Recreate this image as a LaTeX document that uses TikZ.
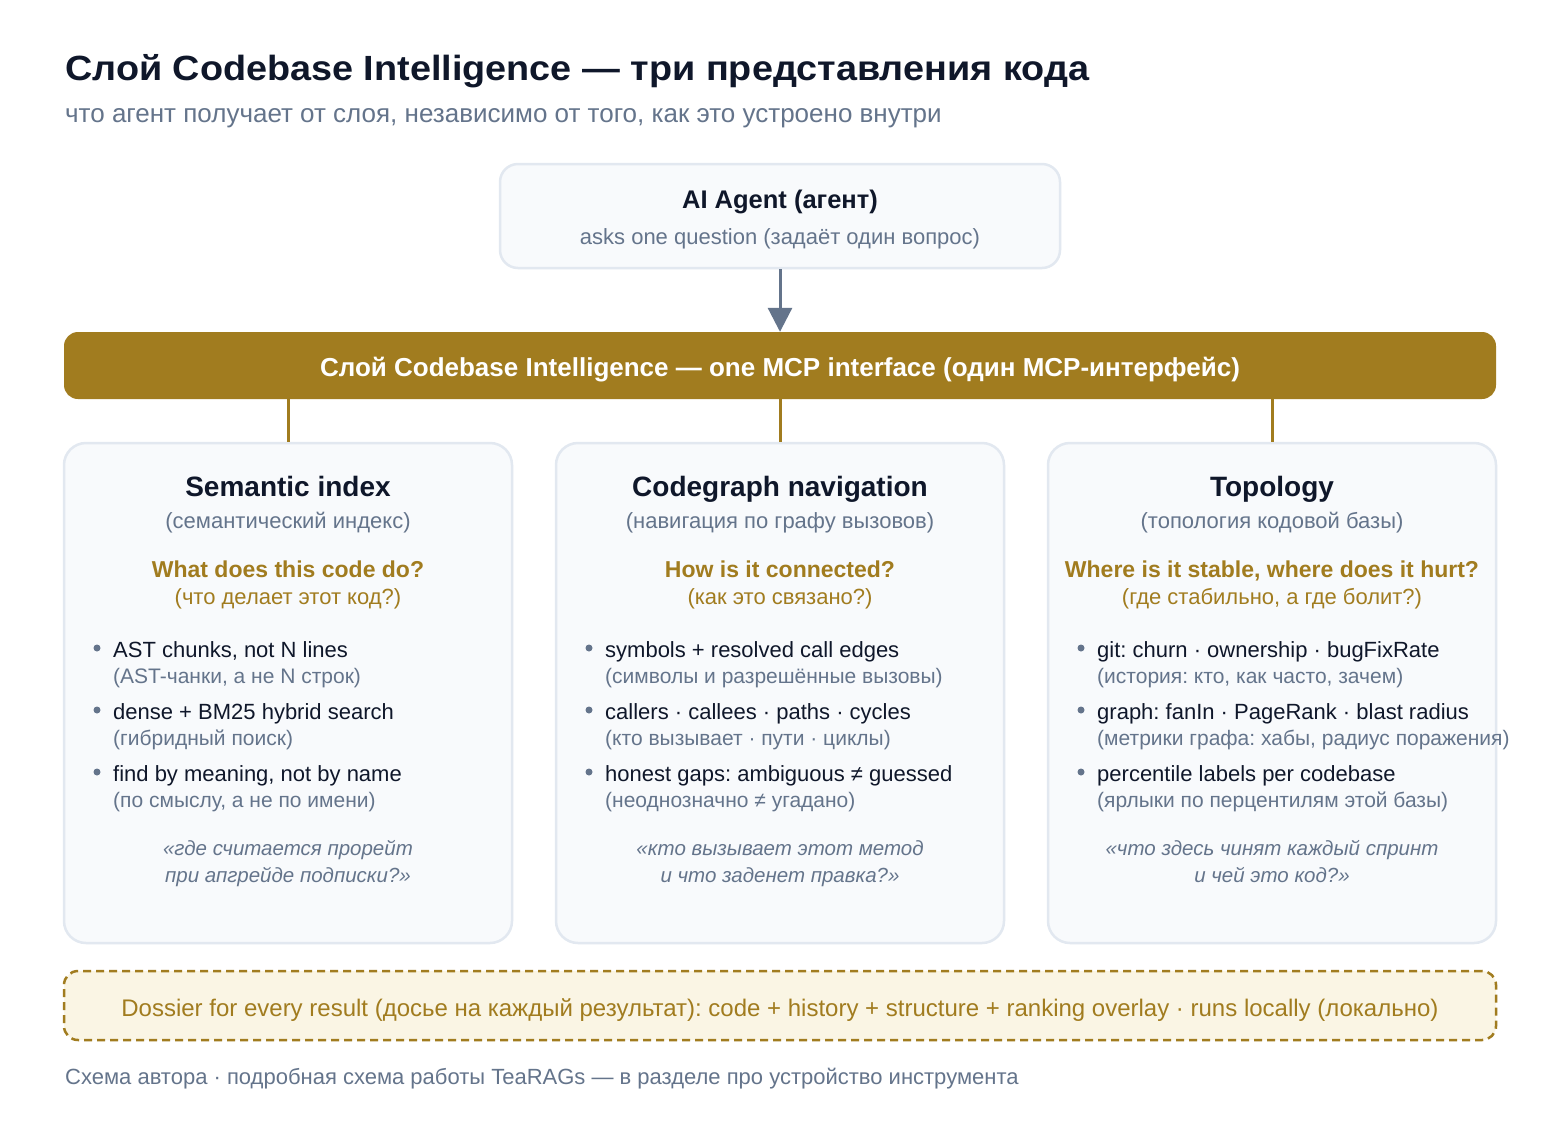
\documentclass[tikz,border=0pt]{standalone}
\usepackage{fontspec}
\setmainfont{Liberation Sans}
\newfontfamily\titlefont[FakeStretch=1.08]{Liberation Sans}
\usetikzlibrary{arrows.meta}
\definecolor{ink}{HTML}{0F172A}
\definecolor{slate}{HTML}{64748B}
\definecolor{gold}{HTML}{A17C1F}
\definecolor{cardfill}{HTML}{F8FAFC}
\definecolor{cardline}{HTML}{E2E8F0}
\definecolor{dossfill}{HTML}{FAF5E4}
\newcommand\fsz[1]{\fontsize{#1}{#1}\selectfont}
\frenchspacing
\tikzset{
  txt/.style={inner sep=0pt, anchor=base},
  card/.style={draw=cardline, fill=cardfill, line width=2.5pt, rounded corners=22pt, minimum width=448pt, minimum height=500pt},
  hd/.style={txt, text=ink, font=\fsz{28}\bfseries},
  hdru/.style={txt, text=slate, font=\fsz{22}},
  qq/.style={txt, text=gold, font=\fsz{23}\bfseries},
  qqru/.style={txt, text=gold, font=\fsz{22}},
  item/.style={txt, anchor=base west, text=ink, font=\fsz{22}},
  itemru/.style={txt, anchor=base west, text=slate, font=\fsz{21}},
  quote/.style={txt, text=slate, font=\fsz{20.5}\itshape},
  goldline/.style={draw=gold, line width=3pt},
}
\newcommand\cardhead[6]{%
  \node[hd] (#1-t) at (#2,496) {#3};
  \node[hdru] (#1-s) at (#2,528) {#4};
  \node[qq] (#1-q) at (#2,577) {#5};
  \node[qqru] (#1-qr) at (#2,604) {#6};
}
\newcommand\bul[5]{%
  \fill[slate] (#2,#3-9) circle (3.5pt);
  \node[item] (#1) at (#2+16,#3) {#4};
  \node[itemru] (#1r) at (#2+16,#3+26) {#5};
}
\begin{document}
\begin{tikzpicture}[x=1pt,y=-1pt]
\useasboundingbox[fill=white] (0,0) rectangle (1560,1120);
\node[txt, anchor=base west, text=ink, font=\fsz{35}\titlefont\bfseries] (title) at (65,80)
  {Слой Codebase Intelligence — три представления кода};
\node[txt, anchor=base west, text=slate, font=\fsz{26}] (subtitle) at (65,122)
  {что агент получает от слоя, независимо от того, как это устроено внутри};

\node[card, rounded corners=18pt, minimum width=560pt, minimum height=104pt] (agent) at (780,216) {};
\node[txt, text=ink, font=\fsz{25.5}\bfseries] (agent-t) at (780,208) {AI Agent (агент)};
\node[txt, text=slate, font=\fsz{22}] (agent-s) at (780,244) {asks one question (задаёт один вопрос)};

\node[fill=gold, rounded corners=14pt, minimum width=1432pt, minimum height=67pt] (bar) at (780,365.5) {};
\node[txt, text=white, font=\fsz{26}\bfseries] (bar-t) at (780,376)
  {Слой Codebase Intelligence — one MCP interface (один MCP-интерфейс)};
\draw[slate, line width=3pt, -{Triangle[width=24pt,length=24pt]}] (agent.south) -- (bar.north);

\node[card] (sem) at (288,693) {};
\node[card] (cg) at (780,693) {};
\node[card] (topo) at (1272,693) {};
\foreach \c in {sem,cg,topo}
  \draw[goldline] (bar.south -| \c.north) -- (\c.north);

\cardhead{sem}{288}{Semantic index}{(семантический индекс)}{What does this code do?}{(что делает этот код?)}
\bul{sem1}{97}{657}{AST chunks, not N lines}{(AST-чанки, а не N строк)}
\bul{sem2}{97}{719}{dense + BM25 hybrid search}{(гибридный поиск)}
\bul{sem3}{97}{781}{find by meaning, not by name}{(по смыслу, а не по имени)}
\node[quote] (sem-q1) at (288,855) {«где считается прорейт};
\node[quote] (sem-q2) at (288,882) {при апгрейде подписки?»};

\cardhead{cg}{780}{Codegraph navigation}{(навигация по графу вызовов)}{How is it connected?}{(как это связано?)}
\bul{cg1}{589}{657}{symbols + resolved call edges}{(символы и разрешённые вызовы)}
\bul{cg2}{589}{719}{callers · callees · paths · cycles}{(кто вызывает · пути · циклы)}
\bul{cg3}{589}{781}{honest gaps: ambiguous ≠ guessed}{(неоднозначно ≠ угадано)}
\node[quote] (cg-q1) at (780,855) {«кто вызывает этот метод};
\node[quote] (cg-q2) at (780,882) {и что заденет правка?»};

\cardhead{topo}{1272}{Topology}{(топология кодовой базы)}{Where is it stable, where does it hurt?}{(где стабильно, а где болит?)}
\bul{topo1}{1081}{657}{git: churn · ownership · bugFixRate}{(история: кто, как часто, зачем)}
\bul{topo2}{1081}{719}{graph: fanIn · PageRank · blast radius}{(метрики графа: хабы, радиус поражения)}
\bul{topo3}{1081}{781}{percentile labels per codebase}{(ярлыки по перцентилям этой базы)}
\node[quote] (topo-q1) at (1272,855) {«что здесь чинят каждый спринт};
\node[quote] (topo-q2) at (1272,882) {и чей это код?»};

\node[draw=gold, fill=dossfill, line width=2.5pt, dash pattern=on 8pt off 5pt, rounded corners=14pt,
  minimum width=1432pt, minimum height=69pt] (doss) at (780,1005.5) {};
\node[txt, text=gold, font=\fsz{24}] (doss-t) at (780,1016)
  {Dossier for every result (досье на каждый результат): code + history + structure + ranking overlay · runs locally (локально)};
\node[txt, anchor=base west, text=slate, font=\fsz{22}] (footer) at (65,1084)
  {Схема автора · подробная схема работы TeaRAGs — в разделе про устройство инструмента};
\end{tikzpicture}
\end{document}
